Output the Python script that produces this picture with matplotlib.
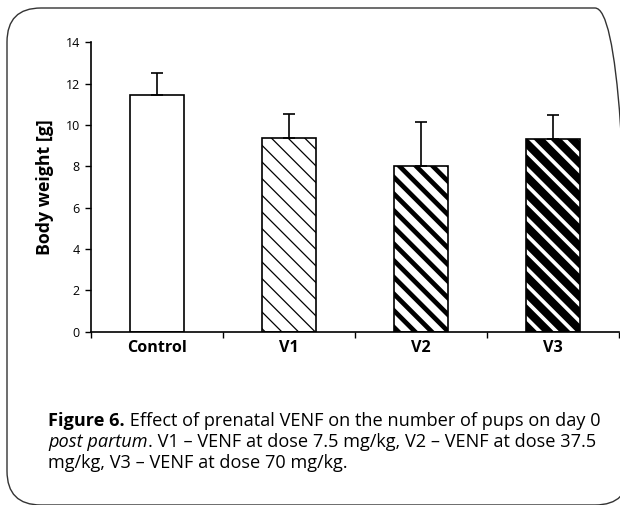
import matplotlib
matplotlib.use("Agg")
import matplotlib.pyplot as plt
from matplotlib.patches import FancyBboxPatch

groups = ["Control", "V1", "V2", "V3"]
means = [11.45, 9.36, 8.03, 9.32]
sd = [1.08, 1.17, 2.10, 1.16]
hatch_lw = [0, 0.9, 3.4, 5.8]

caption = [
    [("Figure 6.", "bold", "normal"), (" Effect of prenatal VENF on the number of pups on day 0", "normal", "normal")],
    [("post partum", "normal", "italic"), (". V1 \u2013 VENF at dose 7.5 mg/kg, V2 \u2013 VENF at dose 37.5", "normal", "normal")],
    [("mg/kg, V3 \u2013 VENF at dose 70 mg/kg.", "normal", "normal")],
]

FONT = "Open Sans"
plt.rcParams["font.family"] = [FONT, "DejaVu Sans"]

fig = plt.figure(figsize=(6.2, 5.05), dpi=100)
W, H = 620, 505

# rounded frame (inches), right side runs off the picture
frame = FancyBboxPatch((0.07, 0.0), 6.22, 4.97,
                       boxstyle="round,pad=0,rounding_size=0.34",
                       transform=fig.dpi_scale_trans, fill=False,
                       edgecolor="#333333", linewidth=1.0)
fig.patches.append(frame)

ax = fig.add_axes([91 / W, (H - 331.7) / H, 528 / W, 289.4 / H])
x = range(len(groups))
for i in x:
    plt.rcParams["hatch.linewidth"] = hatch_lw[i] if hatch_lw[i] > 0 else 1.0
    b = ax.bar(i, means[i], width=0.41, color="white", edgecolor="black",
               linewidth=1.2, hatch="\\\\" if i > 0 else None, zorder=2)
    for p in b.patches:
        if hasattr(p, "set_hatch_linewidth") and hatch_lw[i] > 0:
            p.set_hatch_linewidth(hatch_lw[i])
    ax.errorbar(i, means[i], yerr=[[0], [sd[i]]], fmt="none", ecolor="black",
                elinewidth=1.2, capsize=4, capthick=1.2, zorder=3)

ax.set_xlim(-0.5, len(groups) - 0.5)
ax.set_ylim(0, 14)
ax.set_yticks(range(0, 15, 2))
ax.spines["top"].set_visible(False)
ax.spines["right"].set_visible(False)
for s in ["left", "bottom"]:
    ax.spines[s].set_linewidth(1.2)
ax.set_xticks([i + 0.5 for i in range(-1, len(groups))])
ax.set_xticklabels([])
ax.tick_params(axis="x", direction="out", length=4, width=1)
ax.tick_params(axis="y", direction="out", length=4, width=1, labelsize=9, pad=4)
for i, g in enumerate(groups):
    ax.text(i, -0.4, g, ha="center", va="top", fontsize=11.6, fontweight="bold",
            transform=ax.transData)
ax.set_ylabel("Body weight [g]", fontsize=12.8, fontweight="bold")
ax.yaxis.set_label_coords(-0.07, 0.5)

# caption with mixed styles, line 1 fitted to the reference width
fig.canvas.draw()
r = fig.canvas.get_renderer()
x0, x1 = 48, 600
base = 12.0
w = 0
tmp = []
for txt, wt, st in caption[0]:
    t = fig.text(0, 0, txt, fontsize=base, fontweight=wt, fontstyle=st)
    w += t.get_window_extent(renderer=r).width
    tmp.append(t)
for t in tmp:
    t.remove()
fs = base * (x1 - x0) / w

baselines = [426, 447, 468]
for line, yb in zip(caption, baselines):
    xc = x0
    for txt, wt, st in line:
        t = fig.text(xc / W, (H - yb) / H, txt, fontsize=fs, fontweight=wt,
                     fontstyle=st, ha="left", va="baseline")
        xc += t.get_window_extent(renderer=r).width

fig.savefig("out.png", dpi=100)
